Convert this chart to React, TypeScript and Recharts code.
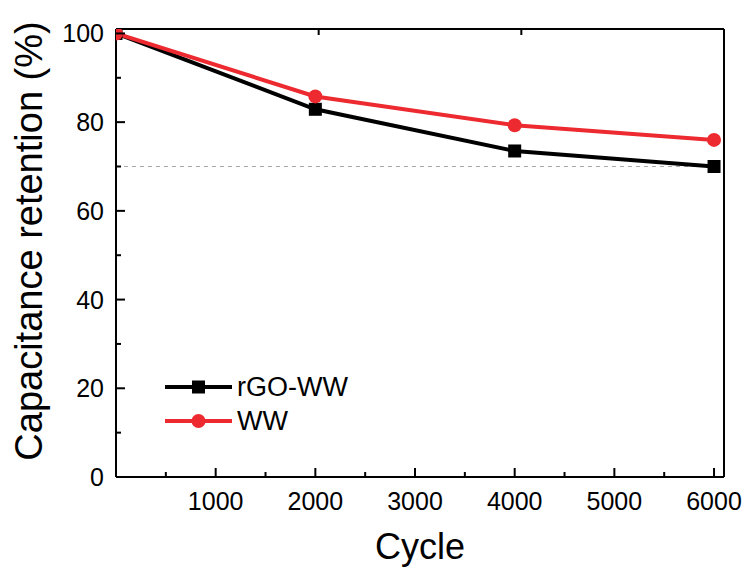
import { LineChart, Line, XAxis, YAxis, ReferenceLine } from "recharts";

const cycles = [0, 2000, 4000, 6000];
const rgoWW = [100, 82.9, 73.5, 70];
const ww = [100, 85.8, 79.3, 76];
const xTicks = [500, 1000, 1500, 2000, 2500, 3000, 3500, 4000, 4500, 5000, 5500, 6000];
const yTicks = [0, 10, 20, 30, 40, 50, 60, 70, 80, 90, 100];
const frameTicks = [1, 2, 3, 4, 5, 6, 7, 8, 9];

const data = cycles.map((c, i) => ({ cycle: c, rgo: rgoWW[i], ww: ww[i] }));

const FONT = "'Liberation Sans', Arial, sans-serif";
const RED = "#EC2A30";

const XTick = (props: any) => {
  const { x, y, payload } = props;
  const major = payload.value % 1000 === 0;
  return (
    <g>
      <line x1={x} y1={y} x2={x} y2={y - (major ? 9 : 5)} stroke="#000" strokeWidth={2} />
      {major && (
        <text x={x} y={y + 33} textAnchor="middle" fontSize={25} fontFamily={FONT} fill="#000">
          {payload.value}
        </text>
      )}
    </g>
  );
};

const YTick = (props: any) => {
  const { x, y, payload } = props;
  const major = payload.value % 20 === 0;
  return (
    <g>
      <line x1={x} y1={y} x2={x + (major ? 9 : 5)} y2={y} stroke="#000" strokeWidth={2} />
      {major && (
        <text x={x - 12} y={y + 9} textAnchor="end" fontSize={25} fontFamily={FONT} fill="#000">
          {payload.value}
        </text>
      )}
    </g>
  );
};

const TopTick = (props: any) => {
  const { x, y } = props;
  return <line x1={x} y1={y} x2={x} y2={y + 6} stroke="#000" strokeWidth={2} />;
};

const RightTick = (props: any) => {
  const { x, y } = props;
  return <line x1={x} y1={y} x2={x - 6} y2={y} stroke="#000" strokeWidth={2} />;
};

const SquareDot = (props: any) => {
  const { cx, cy } = props;
  if (cx == null || cy == null) return null;
  return <rect x={cx - 6.5} y={cy - 6.5} width={13} height={13} fill="#000" />;
};

const CircleDot = (props: any) => {
  const { cx, cy } = props;
  if (cx == null || cy == null) return null;
  return <circle cx={cx} cy={cy} r={7} fill={RED} />;
};

export default function App() {
  return (
    <div style={{ position: "absolute", left: 0, top: 0, width: 748, height: 569, background: "#fff" }}>
      <LineChart
        width={748}
        height={569}
        data={data}
        margin={{ top: 28, right: 23, left: 36, bottom: 52 }}
      >
        <XAxis
          dataKey="cycle"
          type="number"
          domain={[0, 6100]}
          allowDataOverflow
          ticks={xTicks}
          height={40}
          stroke="#000"
          strokeWidth={2}
          tickLine={false}
          tickSize={0}
          tickMargin={0}
          tick={<XTick />}
          interval={0}
        />
        <XAxis
          xAxisId="top"
          orientation="top"
          type="number"
          domain={[0, 10]}
          ticks={frameTicks}
          height={1}
          stroke="#000"
          strokeWidth={2}
          tickLine={false}
          tickSize={0}
          tickMargin={0}
          tick={<TopTick />}
          interval={0}
        />
        <YAxis
          type="number"
          domain={[0, 101]}
          allowDataOverflow
          ticks={yTicks}
          width={80}
          stroke="#000"
          strokeWidth={2}
          tickLine={false}
          tickSize={0}
          tickMargin={0}
          tick={<YTick />}
          interval={0}
        />
        <YAxis
          yAxisId="right"
          orientation="right"
          type="number"
          domain={[0, 101]}
          ticks={yTicks}
          width={1}
          stroke="#000"
          strokeWidth={2}
          tickLine={false}
          tickSize={0}
          tickMargin={0}
          tick={<RightTick />}
          interval={0}
        />
        <ReferenceLine y={70} stroke="#aaa" strokeWidth={1} strokeDasharray="4 4" />
        <Line
          dataKey="rgo"
          name="rGO-WW"
          stroke="#000"
          strokeWidth={4}
          dot={<SquareDot />}
          activeDot={false}
          isAnimationActive={false}
        />
        <Line
          dataKey="ww"
          name="WW"
          stroke={RED}
          strokeWidth={4}
          dot={<CircleDot />}
          activeDot={false}
          isAnimationActive={false}
        />
      </LineChart>
      <svg width={748} height={569} style={{ position: "absolute", left: 0, top: 0, pointerEvents: "none" }}>
        <g transform="translate(165, 370)">
          <line x1={0} y1={17} x2={67} y2={17} stroke="#000" strokeWidth={4} />
          <rect x={27} y={10.5} width={13} height={13} fill="#000" />
          <text x={72} y={26} fontSize={27} fontFamily={FONT} fill="#000">rGO-WW</text>
          <line x1={0} y1={51} x2={67} y2={51} stroke={RED} strokeWidth={4} />
          <circle cx={33.5} cy={51} r={7} fill={RED} />
          <text x={72} y={60} fontSize={27} fontFamily={FONT} fill="#000">WW</text>
        </g>
        <text
          x={42}
          y={241}
          transform="rotate(-90, 42, 241)"
          textAnchor="middle"
          fontSize={38}
          fontFamily={FONT}
          fill="#000"
        >
          Capacitance retention (%)
        </text>
        <text x={420} y={559} textAnchor="middle" fontSize={36} fontFamily={FONT} fill="#000">
          Cycle
        </text>
      </svg>
    </div>
  );
}
